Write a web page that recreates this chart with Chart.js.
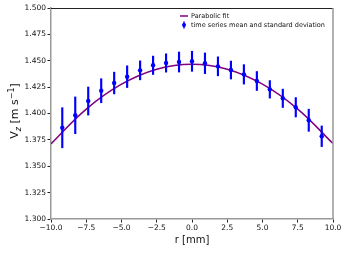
<!DOCTYPE html>
<html>
<head>
<meta charset="utf-8">
<script src="https://cdn.jsdelivr.net/npm/chart.js@4/dist/chart.umd.min.js"></script>
<style>
  html, body { margin: 0; padding: 0; background: #fff; }
  #wrap { width: 348px; height: 253px; }
</style>
</head>
<body>
<div id="wrap"><canvas id="chart" width="348" height="253"></canvas></div>
<script>
// radial positions of the measurements [mm]
const rPositions = [-9.2, -8.28, -7.36, -6.44, -5.52, -4.6, -3.68, -2.76, -1.84, -0.92, 0,
                    0.92, 1.84, 2.76, 3.68, 4.6, 5.52, 6.44, 7.36, 8.28, 9.2];
// time series mean [m/s]
const meanVz = [1.3865, 1.3983, 1.4118, 1.4216, 1.4289, 1.4349, 1.4409, 1.4457, 1.4479, 1.4488, 1.4495,
                1.4476, 1.4447, 1.4412, 1.4371, 1.4308, 1.4229, 1.4144, 1.4059, 1.3936, 1.3784];
// standard deviation [m/s]
const stdVz = [0.019, 0.0174, 0.0133, 0.0114, 0.0103, 0.0103, 0.009, 0.0087, 0.0087, 0.0095, 0.0095,
               0.0098, 0.009, 0.0085, 0.0092, 0.009, 0.0083, 0.0087, 0.0092, 0.0105, 0.0098];
// parabolic fit
const fitR = [-10, -7.5, -5, -2.5, 0, 2.5, 5, 7.5, 10];
const fitVz = [1.3712, 1.4042, 1.4278, 1.4420, 1.4467, 1.4420, 1.4278, 1.4042, 1.3715];

const xTicks = [-10, -7.5, -5, -2.5, 0, 2.5, 5, 7.5, 10];
const yTicks = [1.3, 1.325, 1.35, 1.375, 1.4, 1.425, 1.45, 1.475, 1.5];

const FONT = 'DejaVu Sans';
const fitColor = '#800080';
const dataColor = '#0000ff';

const meanPoints = rPositions.map((r, i) => ({x: r, y: meanVz[i]}));
const errBars = rPositions.map((r, i) => ({x: r, y: [meanVz[i] - stdVz[i], meanVz[i] + stdVz[i]]}));
const fitPoints = fitR.map((r, i) => ({x: r, y: fitVz[i]}));

// frame, axis titles and legend like matplotlib
const extras = {
    id: 'extras',
    afterDraw(chart) {
        const ctx = chart.ctx;
        const a = chart.chartArea;
        ctx.save();
        // top and right spines
        ctx.strokeStyle = '#222';
        ctx.lineWidth = 1;
        ctx.beginPath();
        ctx.moveTo(a.left, a.top + 0.5);
        ctx.lineTo(a.right, a.top + 0.5);
        ctx.stroke();
        ctx.strokeStyle = '#999';
        ctx.lineWidth = 1.5;
        ctx.beginPath();
        ctx.moveTo(a.right, a.top);
        ctx.lineTo(a.right, a.bottom);
        ctx.stroke();

        ctx.fillStyle = '#111';
        // x title
        ctx.font = '10px ' + FONT;
        ctx.textAlign = 'center';
        ctx.textBaseline = 'middle';
        ctx.fillText('r [mm]', (a.left + a.right) / 2, 240);

        // y title: V_z [m s^-1]
        ctx.translate(14, 111);
        ctx.rotate(-Math.PI / 2);
        ctx.textAlign = 'left';
        ctx.textBaseline = 'alphabetic';
        const parts = [
            ['V', '11px', 0],
            ['z', 'italic 8px', 2.5],
            [' [m s', '11px', 0],
            ['\u22121', '8px', -4.5],
            [']', '11px', 0]
        ];
        let w = 0;
        parts.forEach(p => { ctx.font = p[1] + ' ' + FONT; w += ctx.measureText(p[0]).width; });
        let x = -w / 2;
        parts.forEach(p => {
            ctx.font = p[1] + ' ' + FONT;
            ctx.fillText(p[0], x, 4 + p[2]);
            x += ctx.measureText(p[0]).width;
        });
        ctx.setTransform(1, 0, 0, 1, 0, 0);

        // legend
        const ds = chart.data.datasets;
        ctx.font = '6.5px ' + FONT;
        ctx.textBaseline = 'middle';
        ctx.fillStyle = '#111';
        ctx.strokeStyle = fitColor;
        ctx.lineWidth = 1.5;
        ctx.beginPath();
        ctx.moveTo(180, 16);
        ctx.lineTo(188, 16);
        ctx.stroke();
        ctx.fillText(ds[0].label, 191, 16);
        ctx.strokeStyle = dataColor;
        ctx.lineWidth = 1.5;
        ctx.beginPath();
        ctx.moveTo(184, 21.5);
        ctx.lineTo(184, 28.5);
        ctx.stroke();
        ctx.fillStyle = dataColor;
        ctx.beginPath();
        ctx.arc(184, 25, 2, 0, Math.PI * 2);
        ctx.fill();
        ctx.fillStyle = '#111';
        ctx.fillText(ds[1].label, 191, 25);
        ctx.restore();
    }
};

new Chart(document.getElementById('chart'), {
    data: {
        datasets: [
            {
                type: 'line',
                label: 'Parabolic fit',
                data: fitPoints,
                borderColor: fitColor,
                borderWidth: 1.5,
                pointRadius: 0,
                tension: 0.4,
                order: 3
            },
            {
                type: 'scatter',
                label: 'time series mean and standard deviation',
                data: meanPoints,
                backgroundColor: dataColor,
                borderColor: dataColor,
                pointRadius: 2.2,
                borderWidth: 0,
                order: 1
            },
            {
                type: 'bar',
                label: 'std',
                data: errBars,
                backgroundColor: dataColor,
                barThickness: 1.5,
                grouped: false,
                order: 2
            }
        ]
    },
    options: {
        responsive: false,
        animation: false,
        layout: { padding: { top: 8, right: 15, left: 0, bottom: 0 } },
        plugins: {
            legend: { display: false },
            tooltip: { enabled: false }
        },
        scales: {
            x: {
                type: 'linear',
                min: -10,
                max: 10,
                offset: false,
                afterFit(s) { s.height = 34; },
                afterBuildTicks(s) { s.ticks = xTicks.map(v => ({value: v})); },
                grid: { display: true, drawOnChartArea: false, drawTicks: true, tickLength: 3.5, color: '#222', offset: false },
                border: { color: '#999', width: 1.5 },
                ticks: {
                    padding: 1,
                    color: '#111',
                    font: { family: FONT, size: 7.5 },
                    maxRotation: 0,
                    callback: v => v.toFixed(1).replace('-', '\u2212')
                }
            },
            y: {
                min: 1.3,
                max: 1.5,
                afterFit(s) { s.width = 51; },
                afterBuildTicks(s) { s.ticks = yTicks.map(v => ({value: v})); },
                grid: { display: true, drawOnChartArea: false, drawTicks: true, tickLength: 3.5, color: '#222' },
                border: { color: '#999', width: 1.5 },
                ticks: {
                    padding: 1.5,
                    color: '#111',
                    font: { family: FONT, size: 7.5 },
                    callback: v => v.toFixed(3)
                }
            }
        }
    },
    plugins: [extras]
});
</script>
</body>
</html>
